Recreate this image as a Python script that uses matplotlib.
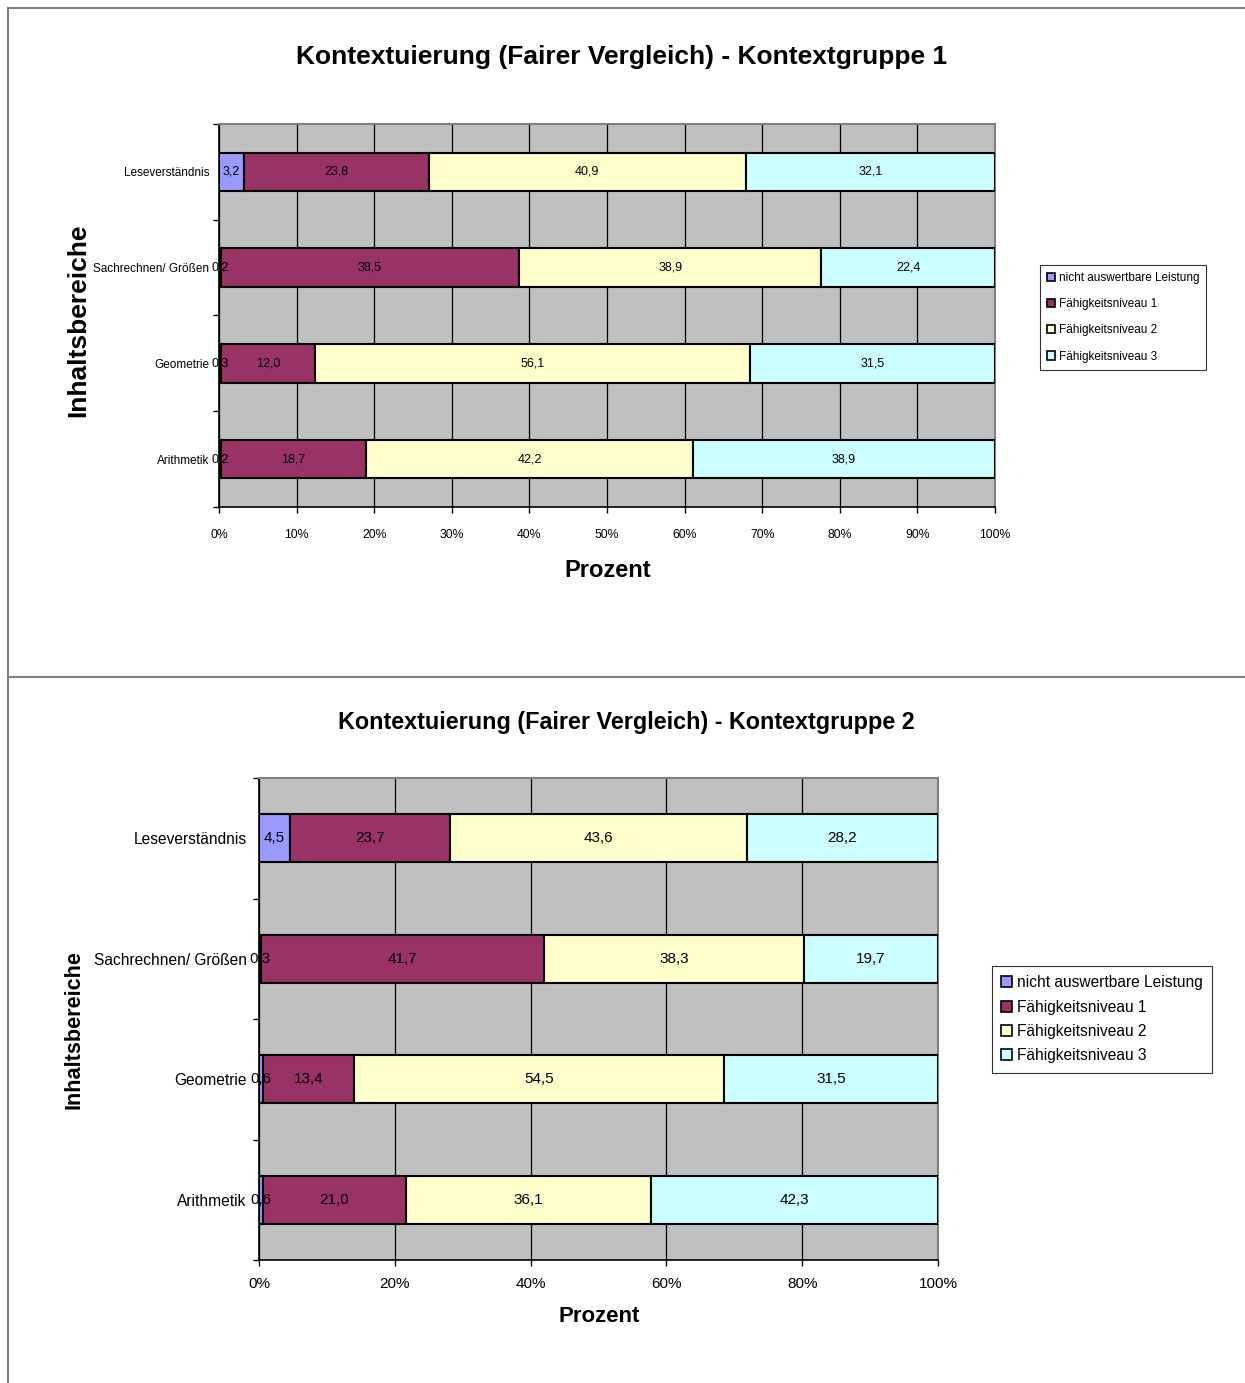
import numpy as np
import matplotlib
matplotlib.use("Agg")
import matplotlib.pyplot as plt
from matplotlib import font_manager
from matplotlib.lines import Line2D
from matplotlib.ticker import FixedLocator, PercentFormatter

# ---------------- data ----------------
categories = ["Leseverständnis", "Sachrechnen/ Größen", "Geometrie", "Arithmetik"]
series_names = ["nicht auswertbare Leistung", "Fähigkeitsniveau 1",
                "Fähigkeitsniveau 2", "Fähigkeitsniveau 3"]

# Kontextgruppe 1 (rows follow categories)
g1_nicht = [3.2, 0.2, 0.3, 0.2]
g1_niveau1 = [23.8, 38.5, 12.0, 18.7]
g1_niveau2 = [40.9, 38.9, 56.1, 42.2]
g1_niveau3 = [32.1, 22.4, 31.5, 38.9]

# Kontextgruppe 2
g2_nicht = [4.5, 0.3, 0.6, 0.6]
g2_niveau1 = [23.7, 41.7, 13.4, 21.0]
g2_niveau2 = [43.6, 38.3, 54.5, 36.1]
g2_niveau3 = [28.2, 19.7, 31.5, 42.3]

titles = ["Kontextuierung (Fairer Vergleich) - Kontextgruppe 1",
          "Kontextuierung (Fairer Vergleich) - Kontextgruppe 2"]
x_label = "Prozent"
y_label = "Inhaltsbereiche"

colors = ["#9999FF", "#993366", "#FFFFCC", "#CCFFFF"]
bg = "#C0C0C0"

names = {f.name for f in font_manager.fontManager.ttflist}
REG = "Liberation Sans" if "Liberation Sans" in names else "DejaVu Sans"
NARROW = "Liberation Sans Narrow" if "Liberation Sans Narrow" in names else REG

W, H = 1245, 1383
fig = plt.figure(figsize=(W / 100, H / 100), dpi=100)
fig.patch.set_facecolor("white")

# panel frame lines (gray)
gray = "#808080"
fig.add_artist(Line2D([8 / W, 8 / W], [0, 1 - 8 / H], transform=fig.transFigure, color=gray, lw=1.5))
fig.add_artist(Line2D([8 / W, 1], [1 - 8 / H, 1 - 8 / H], transform=fig.transFigure, color=gray, lw=1.5))
fig.add_artist(Line2D([8 / W, 1], [1 - 677 / H, 1 - 677 / H], transform=fig.transFigure, color=gray, lw=1.5))


def fmt(v):
    return f"{v:.1f}".replace(".", ",")


def draw(rect, data, title, font, sizes, xstep, title_pos, xlabel_coords, ylabel_coords,
         legend_anchor, label_pad, xtick_pad):
    ax = fig.add_axes(rect)
    ax.set_facecolor(bg)
    arr = np.array(data, dtype=float)  # series x categories
    totals = arr.sum(axis=0)
    pct = arr / totals * 100.0
    y = np.arange(len(categories))
    left = np.zeros(len(categories))
    for i in range(arr.shape[0]):
        bars = ax.barh(y, pct[i], left=left, height=0.4, color=colors[i],
                       edgecolor="black", linewidth=1.5, label=series_names[i], zorder=3)
        ax.bar_label(bars, labels=[fmt(v) for v in arr[i]], label_type="center",
                     fontsize=sizes["data"], family=font, color="black", zorder=4)
        left += pct[i]
    ax.set_xlim(0, 100)
    ax.set_ylim(len(categories) - 0.5, -0.5)
    ax.set_xticks(np.arange(0, 101, xstep))
    ax.xaxis.set_major_formatter(PercentFormatter(decimals=0))
    ax.grid(axis="x", color="black", linewidth=0.9, zorder=1)
    ax.set_axisbelow(True)
    ax.set_yticks(y)
    ax.set_yticklabels(categories)
    ax.yaxis.set_minor_locator(FixedLocator(np.arange(-0.5, len(categories), 1.0)))
    ax.tick_params(axis="y", which="major", length=0, pad=label_pad,
                   labelsize=sizes["ytick"])
    ax.tick_params(axis="y", which="minor", length=4, width=1, direction="out")
    ax.tick_params(axis="x", length=4, width=1, direction="out", pad=xtick_pad,
                   labelsize=sizes["xtick"])
    for lab in ax.get_xticklabels() + ax.get_yticklabels():
        lab.set_family(font)
    ax.spines["left"].set_color("black")
    ax.spines["bottom"].set_color("black")
    ax.spines["left"].set_linewidth(1.2)
    ax.spines["bottom"].set_linewidth(1.2)
    ax.spines["top"].set_color(gray)
    ax.spines["right"].set_color(gray)
    ax.spines["top"].set_linewidth(1.5)
    ax.spines["right"].set_linewidth(1.5)

    ax.set_xlabel(x_label, fontsize=sizes["axis"], fontweight="bold", family=font, va="center")
    ax.xaxis.set_label_coords(*xlabel_coords)
    ax.set_ylabel(y_label, fontsize=sizes["ylab"], fontweight="bold", family=REG, va="center")
    ax.yaxis.set_label_coords(*ylabel_coords)

    fig.text(title_pos[0], title_pos[1], title, ha="center", va="center",
             fontsize=sizes["title"], fontweight="bold", family=font)

    handles, labels = ax.get_legend_handles_labels()
    leg = fig.legend(handles, labels, loc="upper left", bbox_to_anchor=legend_anchor,
                     bbox_transform=fig.transFigure, frameon=True, fancybox=False,
                     edgecolor="black", handlelength=0.7, handleheight=0.7,
                     handletextpad=0.3, labelspacing=sizes["lspace"], borderpad=0.6,
                     borderaxespad=0.0, prop={"family": font, "size": sizes["legend"]})
    leg.get_frame().set_linewidth(0.8)
    for p in leg.get_patches():
        p.set_linewidth(1.2)
    return ax


# top chart: axes 219..995 x, 124..507 y
draw([219 / W, 1 - 507 / H, (995 - 219) / W, (507 - 124) / H],
     [g1_nicht, g1_niveau1, g1_niveau2, g1_niveau3], titles[0], NARROW,
     {"data": 9, "ytick": 8.5, "xtick": 8.8, "axis": 17, "ylab": 19, "title": 19,
      "legend": 8.5, "lspace": 1.2},
     10, (622 / W, 1 - 57 / H), (0.501, -0.1645), (-0.1817, 0.488),
     (1040 / W, 1 - 265 / H), 7, 12)

# bottom chart: axes 259..938 x, 778..1260 y
draw([259 / W, 1 - 1260 / H, (938 - 259) / W, (1260 - 778) / H],
     [g2_nicht, g2_niveau1, g2_niveau2, g2_niveau3], titles[1], REG,
     {"data": 11, "ytick": 11.2, "xtick": 11, "axis": 16, "ylab": 15.6, "title": 16.8,
      "legend": 11.2, "lspace": 0.6},
     20, (626 / W, 1 - 722 / H), (0.5007, -0.1162), (-0.2725, 0.479),
     (992 / W, 1 - 966 / H), 9, 8)

fig.savefig("out.png", dpi=100, facecolor="white")
